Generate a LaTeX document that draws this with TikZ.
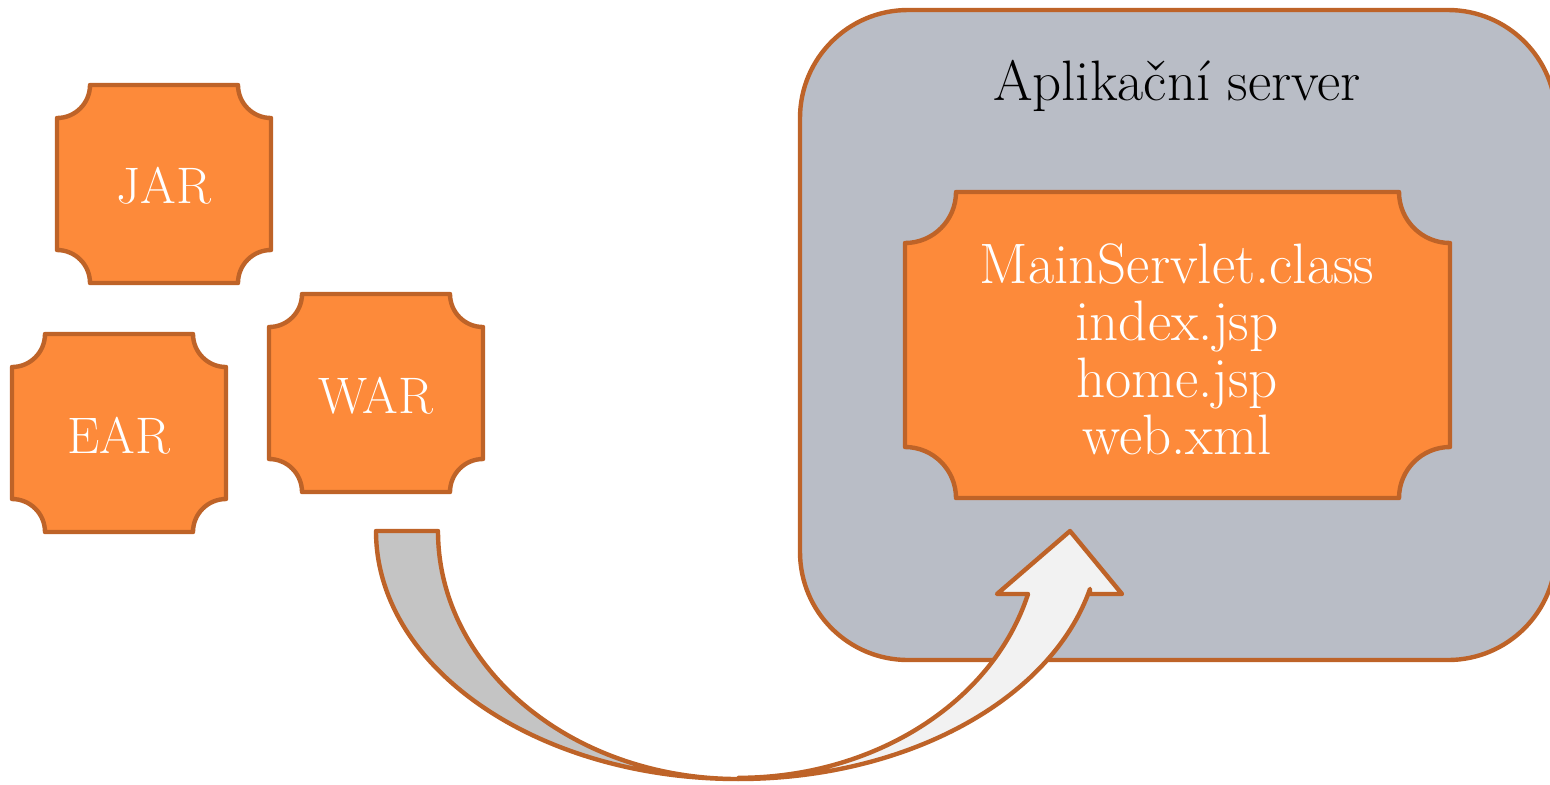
\documentclass[tikz,border=0pt]{standalone}
\begin{document}
\begin{tikzpicture}[x=0.5pt,y=-0.5pt,
  line join=round,
  brd/.style={draw=borderc, line width=2.2pt},
  plaquefill/.style={brd, fill=orangec},
  wlabel/.style={text=white, font=\fontsize{25.7}{28.5}\selectfont, align=center, inner sep=0pt},
  wbig/.style={text=white, font=\fontsize{28.5}{28.5}\selectfont, align=center, inner sep=0pt},
  blabel/.style={text=black, font=\fontsize{28.5}{28.5}\selectfont, align=center, inner sep=0pt}]
\definecolor{orangec}{RGB}{253,138,58}
\definecolor{borderc}{RGB}{190,99,40}
\definecolor{serverc}{RGB}{185,189,198}
\definecolor{darkpiece}{RGB}{196,196,196}
\definecolor{lightpiece}{RGB}{242,242,242}
\useasboundingbox (0,0) rectangle (1550,784);
\clip (0,0) rectangle (1550,784);

% application server
\draw[brd, fill=serverc, rounded corners=54pt] (800,10) rectangle (1556,660);

\newcommand{\plaquepath}[5]{%
  \draw[plaquefill] (#1+#5,#2) -- (#3-#5,#2)
    arc[start angle=180, end angle=90, radius=#5] -- (#3,#4-#5)
    arc[start angle=270, end angle=180, radius=#5] -- (#1+#5,#4)
    arc[start angle=0, end angle=-90, radius=#5] -- (#1,#2+#5)
    arc[start angle=90, end angle=0, radius=#5] -- cycle;}

\plaquepath{57}{85}{271}{283}{33}
\plaquepath{12}{334}{226}{532}{33}
\plaquepath{269}{294}{483}{492}{33}
\plaquepath{905}{192}{1450}{498}{51}

\node[wlabel] (jar) at (164,186) {JAR};
\node[wlabel] (ear) at (119,436) {EAR};
\node[wlabel] (war) at (376,396) {WAR};
\node[blabel] (srv) at (1177,86) {Aplikační server};
\node[wbig] (files) at (1177,349) {MainServlet.class\\index.jsp\\home.jsp\\web.xml};

% curved arrow: left (dark) piece
\draw[brd, fill=darkpiece] (376,531) -- (438,531)
  arc[start angle=180, end angle=90, x radius=300, y radius=248]
  arc[start angle=90, end angle=180, x radius=362, y radius=248] -- cycle;
% right (light) piece with head
\draw[brd, fill=lightpiece] (738,779)
  arc[start angle=90, end angle=13.5, x radius=362, y radius=248]
  -- (1090,594) -- (1122,594) -- (1070,531) -- (997,594) -- (1028,594)
  arc[start angle=15, end angle=90, x radius=300, y radius=248] -- cycle;
\end{tikzpicture}
\end{document}
